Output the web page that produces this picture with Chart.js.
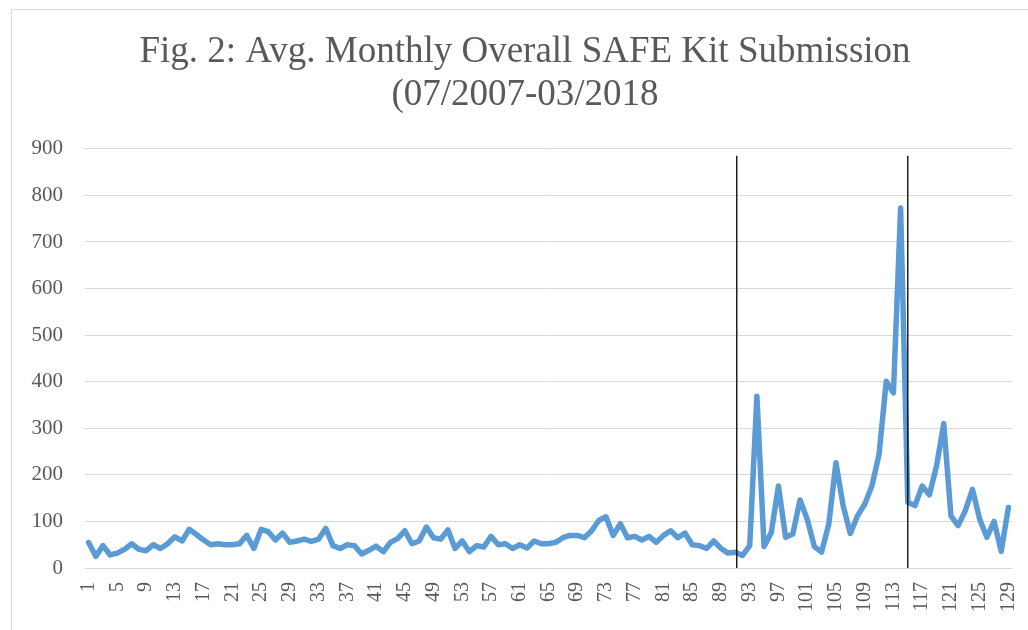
<!DOCTYPE html>
<html>
<head>
<meta charset="utf-8">
<script src="https://cdn.jsdelivr.net/npm/chart.js@4.4.0/dist/chart.umd.min.js"></script>
<style>
  html, body { margin: 0; background: #fff; overflow: hidden; }
  #wrap {
    position: absolute;
    left: 11px;
    top: 9px;
    width: 1027px;
    height: 621px;
    border-left: 1px solid #d9d9d9;
    border-top: 1px solid #d9d9d9;
    box-sizing: border-box;
  }
  canvas { display: block; }
</style>
</head>
<body>
<div id="wrap"><canvas id="myChart" width="1026" height="620"></canvas></div>
<script>

// month index 1..129
let months = [];
for (let m = 1; m <= 129; m++) months.push(String(m));

// avg monthly kit submissions
let submissions = [
    55, 25, 48, 28, 32, 40, 52, 40, 37, 50,
    42, 52, 67, 58, 83, 72, 60, 50, 52, 50,
    50, 52, 70, 42, 83, 78, 60, 75, 55, 58,
    62, 57, 62, 85, 48, 42, 50, 48, 30, 38,
    47, 35, 55, 63, 80, 52, 58, 88, 65, 62,
    82, 42, 58, 35, 48, 45, 68, 50, 52, 42,
    50, 43, 58, 52, 52, 55, 65, 70, 70, 65,
    80, 102, 110, 70, 95, 65, 68, 60, 68, 55,
    70, 80, 65, 75, 50, 48, 42, 58, 42, 32,
    34, 27, 48, 369, 46, 76, 176, 66, 73, 146,
    105, 46, 34, 94, 226, 134, 74, 112, 137, 176,
    244, 401, 376, 773, 141, 134, 176, 157, 219, 310,
    112, 91, 123, 169, 105, 66, 100, 36, 130
];

let yTicks = [0, 100, 200, 300, 400, 500, 600, 700, 800, 900];

// period separators (month position) and how high they reach
let markerMonths = [91.2, 115];
let markerTop = 885;

let titleLines = [
    "Fig. 2: Avg. Monthly Overall SAFE Kit Submission",
    "(07/2007-03/2018"
];

/* vertical separator lines */
const markerPlugin = {
    id: "markers",
    afterDatasetsDraw(chart) {
        let ctx = chart.ctx;
        let x = chart.scales.x;
        let y = chart.scales.y;
        ctx.save();
        ctx.strokeStyle = "#000000";
        ctx.lineWidth = 1.3;
        markerMonths.forEach(function (m) {
            // category scale: index is month - 1
            let px = x.getPixelForValue(m - 1);
            ctx.beginPath();
            ctx.moveTo(px, y.getPixelForValue(markerTop));
            ctx.lineTo(px, y.getPixelForValue(0));
            ctx.stroke();
        });
        ctx.restore();
    }
};

let ctx = document.getElementById("myChart").getContext("2d");

let chart = new Chart(ctx, {
    type: "line",
    data: {
        labels: months,
        datasets: [{
            data: submissions,
            borderColor: "#5B9BD5",
            borderWidth: 5.5,
            pointRadius: 0,
            tension: 0,
            fill: false,
            borderJoinStyle: "round",
            borderCapStyle: "round"
        }]
    },
    options: {
        responsive: false,
        animation: false,
        layout: {
            padding: { left: 0, right: 0, top: 0, bottom: 0 }
        },
        plugins: {
            legend: { display: false },
            tooltip: { enabled: false },
            title: {
                display: true,
                text: titleLines,
                color: "#595959",
                font: { family: "'Liberation Serif', 'Times New Roman', serif", size: 37, weight: "normal", lineHeight: 1.16 },
                padding: { top: 21, bottom: 32 }
            }
        },
        scales: {
            x: {
                offset: true,
                afterFit: function (scale) {
                    scale.height = 62;
                    scale.paddingLeft = 0;
                    scale.paddingRight = 26;
                },
                grid: { display: false },
                border: { display: false },
                ticks: {
                    autoSkip: false,
                    maxRotation: 90,
                    minRotation: 90,
                    padding: 6,
                    color: "#595959",
                    font: { family: "'Liberation Serif', 'Times New Roman', serif", size: 20 },
                    callback: function (value, index) {
                        return index % 4 === 0 ? months[index] : "";
                    }
                }
            },
            y: {
                min: 0,
                max: 900,
                afterFit: function (scale) { scale.width = 73; },
                afterBuildTicks: function (scale) {
                    scale.ticks = yTicks.map(v => ({ value: v }));
                },
                grid: {
                    color: "#d9d9d9",
                    lineWidth: 1,
                    drawTicks: false
                },
                border: { display: false },
                ticks: {
                    padding: 22,
                    color: "#595959",
                    font: { family: "'Liberation Serif', 'Times New Roman', serif", size: 21 }
                }
            }
        }
    },
    plugins: [markerPlugin]
});

</script>
</body>
</html>
